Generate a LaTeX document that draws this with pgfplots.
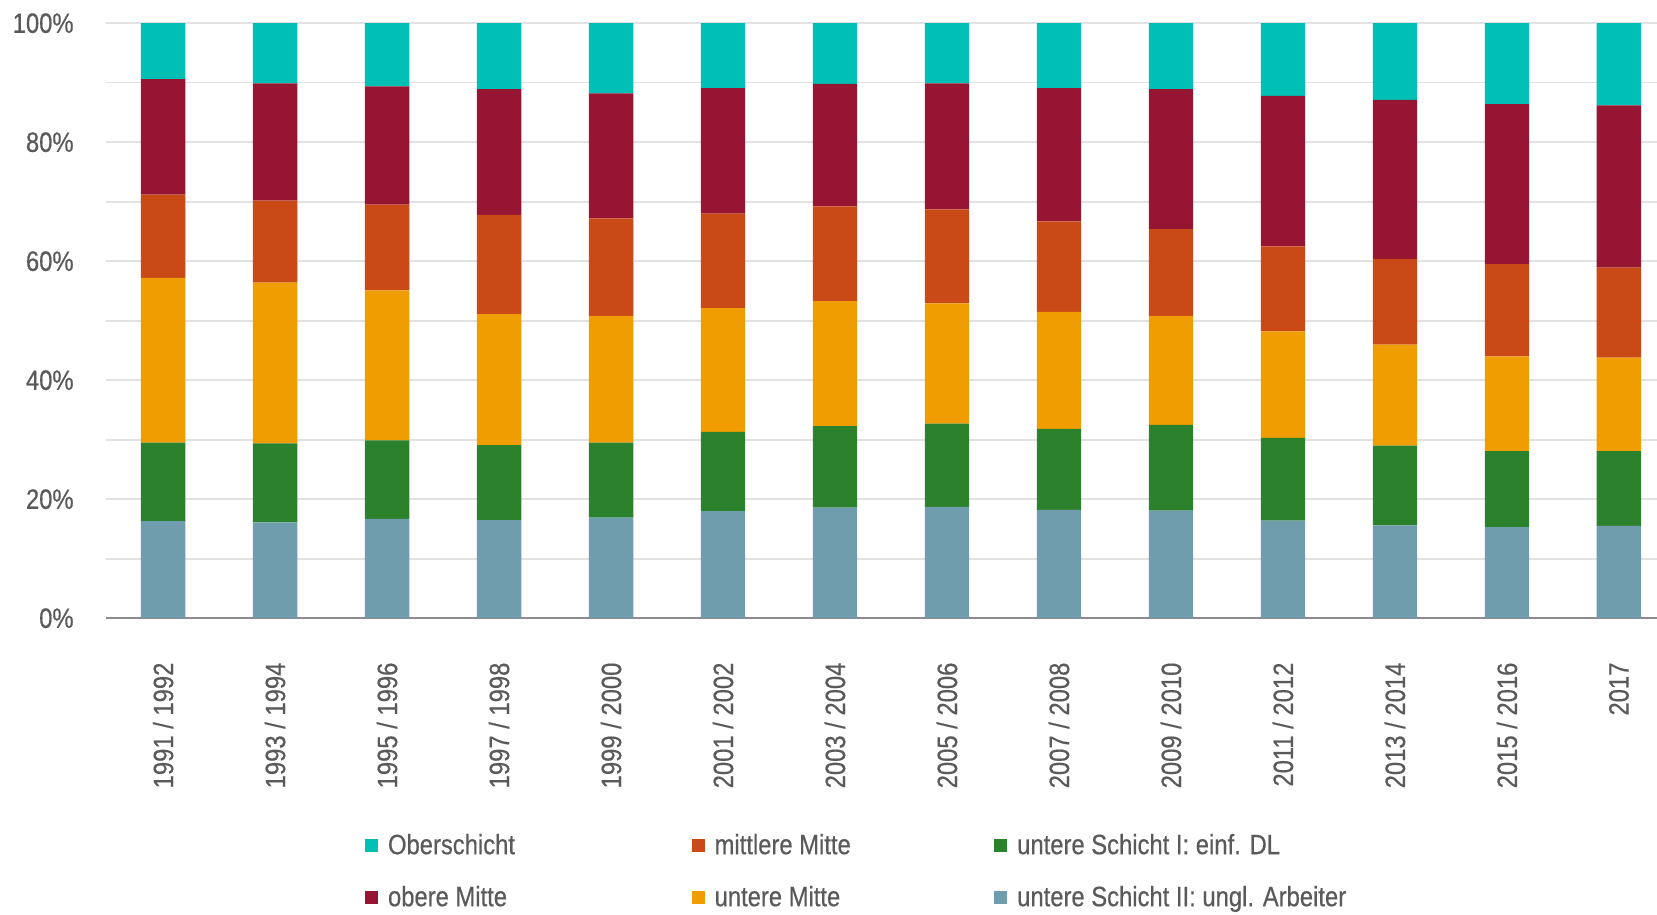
\documentclass[border=0pt]{standalone}
\usepackage{fontspec}
\setmainfont{Liberation Sans}[FakeStretch=0.85, FakeBold=0.5]
\usepackage{pgfplots}
\usepackage{pgfplotstable}
\pgfplotsset{compat=1.18}

\definecolor{cOber}{HTML}{00BFB4}
\definecolor{cObM}{HTML}{961533}
\definecolor{cMitM}{HTML}{CA4A17}
\definecolor{cUntM}{HTML}{EF9D00}
\definecolor{cEinf}{HTML}{2C812D}
\definecolor{cUngl}{HTML}{6F9DAD}
\definecolor{textgray}{HTML}{5A5A5A}
\definecolor{gridgray}{HTML}{E2E2E2}
\definecolor{axisgray}{HTML}{8C8C8C}

% Anteile in Prozent, je Erhebungswelle
\pgfplotstableread{
x  ungl einf untM mitM obM  ober
0  16.3 13.2 27.7 14.0 19.4 9.4
1  16.1 13.3 27.0 13.8 19.7 10.1
2  16.7 13.2 25.2 14.4 19.9 10.6
3  16.5 12.6 22.0 16.7 21.1 11.1
4  16.9 12.6 21.3 16.4 21.0 11.8
5  18.0 13.3 20.8 15.9 21.1 10.9
6  18.6 13.7 21.0 15.9 20.6 10.2
7  18.7 14.0 20.2 15.8 21.2 10.1
8  18.2 13.6 19.7 15.2 22.4 10.9
9  18.1 14.4 18.3 14.6 23.5 11.1
10 16.4 13.9 17.9 14.3 25.3 12.2
11 15.6 13.4 17.0 14.4 26.7 12.9
12 15.3 12.8 15.9 15.5 26.9 13.6
13 15.5 12.6 15.7 15.1 27.3 13.8
}\shares

\begin{document}
\begin{tikzpicture}
\begin{axis}[
    name=ax,
    scale only axis,
    width=775.5bp, height=297.5bp,
    ybar stacked,
    bar width=22.2bp,
    xmin=-0.51, xmax=13.34,
    ymin=0, ymax=100,
    xtick={0,...,13},
    xticklabels={1991 / 1992, 1993 / 1994, 1995 / 1996, 1997 / 1998,
        1999 / 2000, 2001 / 2002, 2003 / 2004, 2005 / 2006, 2007 / 2008,
        2009 / 2010, 2011 / 2012, 2013 / 2014, 2015 / 2016, 2017},
    ytick={0,20,...,100},
    yticklabels={0\%,20\%,40\%,60\%,80\%,100\%},
    minor ytick={10,30,50,70,90},
    ymajorgrids, yminorgrids,
    major grid style={draw=gridgray, line width=0.8bp},
    minor grid style={draw=gridgray, line width=0.8bp},
    axis x line*=bottom, axis y line*=left,
    x axis line style={draw=axisgray, line width=1bp, -},
    y axis line style={draw=none},
    major tick length=0pt, minor tick length=0pt,
    tick style={draw=none},
    tick label style={font=\fontsize{14bp}{16bp}\selectfont, text=textgray},
    xticklabel style={yshift=-22bp, rotate=90, anchor=east, inner sep=0pt},
    yticklabel style={xshift=-16bp, anchor=east, inner sep=0pt},
    legend columns=3,
    legend cell align=left,
    legend style={at={(axis description cs:0.167,-0.363)}, anchor=north west,
        draw=none, fill=none, inner sep=0pt, outer sep=0pt,
        text=textgray, font=\fontsize{14bp}{17bp}\selectfont,
        row sep=13bp,
        nodes={inner sep=0pt, text height=10bp, text depth=3bp},
        /tikz/every odd column/.append style={column sep=5bp}},
    legend image code/.code={\fill[#1] (0bp,-2.5bp) rectangle (6.5bp,4bp);},
]
\addplot[fill=cUngl, draw=none, forget plot] table[x=x, y=ungl] {\shares};
\addplot[fill=cEinf, draw=none, forget plot] table[x=x, y=einf] {\shares};
\addplot[fill=cUntM, draw=none, forget plot] table[x=x, y=untM] {\shares};
\addplot[fill=cMitM, draw=none, forget plot] table[x=x, y=mitM] {\shares};
\addplot[fill=cObM,  draw=none, forget plot] table[x=x, y=obM]  {\shares};
\addplot[fill=cOber, draw=none, forget plot] table[x=x, y=ober] {\shares};

\addlegendimage{fill=cOber, draw=none}
\addlegendentry{\makebox[151.8bp][l]{Oberschicht}}
\addlegendimage{fill=cMitM, draw=none}
\addlegendentry{\makebox[139.8bp][l]{mittlere Mitte}}
\addlegendimage{fill=cEinf, draw=none}
\addlegendentry{untere Schicht I: einf. DL}
\addlegendimage{fill=cObM, draw=none}
\addlegendentry{\makebox[151.8bp][l]{obere Mitte}}
\addlegendimage{fill=cUntM, draw=none}
\addlegendentry{\makebox[139.8bp][l]{untere Mitte}}
\addlegendimage{fill=cUngl, draw=none}
\addlegendentry{untere Schicht II: ungl. Arbeiter}
\end{axis}
\pgfresetboundingbox
\path ([xshift=-53bp,yshift=-148bp]ax.south west) rectangle ([yshift=11.6bp]ax.north east);
\end{tikzpicture}
\end{document}
